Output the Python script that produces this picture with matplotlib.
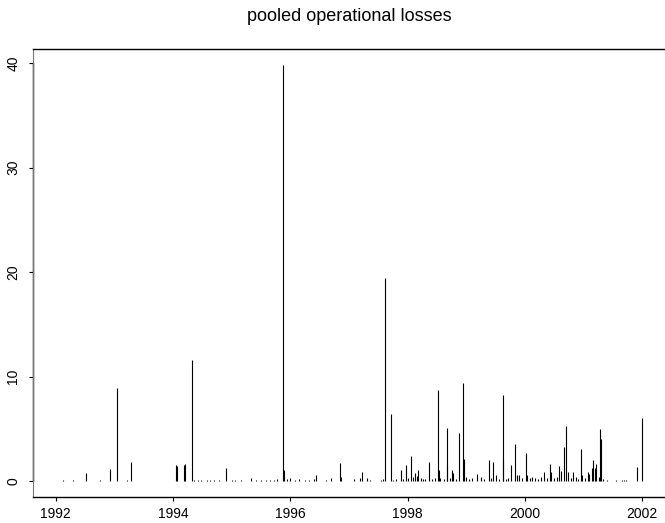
import matplotlib
matplotlib.use("Agg")
import matplotlib.pyplot as plt
import numpy as np

plt.rcParams['font.family'] = ['Liberation Sans', 'DejaVu Sans']

# loss dates as decimal years and pooled loss sizes
loss_dates = [
    1992.13, 1992.30, 1992.51, 1992.75, 1992.92, 1993.04, 1993.22, 1993.28,
    1994.05, 1994.07, 1994.19, 1994.21, 1994.33, 1994.36, 1994.42, 1994.47,
    1994.52, 1994.58, 1994.63, 1994.70, 1994.78, 1994.90, 1995.00, 1995.06,
    1995.15, 1995.32, 1995.42, 1995.50, 1995.58, 1995.65, 1995.72, 1995.78,
    1995.87, 1995.89, 1995.95, 1996.00, 1996.08, 1996.15, 1996.25, 1996.32,
    1996.40, 1996.44, 1996.60, 1996.69, 1996.85, 1996.87, 1997.09, 1997.19,
    1997.22, 1997.30, 1997.35, 1997.55, 1997.58, 1997.62, 1997.71, 1997.75,
    1997.80, 1997.88, 1997.92, 1997.97, 1998.00, 1998.05, 1998.09, 1998.13,
    1998.16, 1998.18, 1998.22, 1998.26, 1998.30, 1998.37, 1998.42, 1998.47,
    1998.52, 1998.53, 1998.56, 1998.62, 1998.67, 1998.68, 1998.72, 1998.75,
    1998.77, 1998.82, 1998.88, 1998.95, 1998.96, 1999.00, 1999.05, 1999.10,
    1999.19, 1999.25, 1999.30, 1999.38, 1999.42, 1999.46, 1999.50, 1999.56,
    1999.62, 1999.63, 1999.68, 1999.71, 1999.77, 1999.83, 1999.87, 1999.90,
    1999.95, 2000.02, 2000.04, 2000.08, 2000.12, 2000.17, 2000.22, 2000.28,
    2000.33, 2000.38, 2000.43, 2000.45, 2000.50, 2000.54, 2000.58, 2000.62,
    2000.67, 2000.70, 2000.74, 2000.78, 2000.82, 2000.87, 2000.91, 2000.96,
    2000.98, 2001.03, 2001.07, 2001.10, 2001.14, 2001.17, 2001.19, 2001.22,
    2001.26, 2001.28, 2001.29, 2001.33, 2001.40, 2001.55, 2001.66, 2001.69,
    2001.72, 2001.91, 2001.99,
]
loss_sizes = [
    0.05, 0.05, 0.75, 0.05, 1.18, 8.9, 0.08, 1.85,
    1.5, 1.45, 1.55, 1.6, 11.6, 0.1, 0.05, 0.05,
    0.04, 0.05, 0.06, 0.05, 0.08, 1.25, 0.05, 0.05,
    0.06, 0.3, 0.08, 0.05, 0.1, 0.08, 0.12, 0.15,
    39.8, 1.05, 0.2, 0.3, 0.1, 0.15, 0.12, 0.1,
    0.2, 0.55, 0.1, 0.3, 1.7, 0.4, 0.15, 0.3,
    0.85, 0.3, 0.1, 0.1, 0.2, 19.4, 6.4, 0.1,
    0.15, 1.05, 0.2, 1.5, 0.3, 2.35, 0.4, 0.8,
    0.5, 1.05, 0.3, 0.2, 0.15, 1.8, 0.2, 0.3,
    8.7, 1.1, 0.3, 0.2, 5.1, 1.5, 0.3, 1.05,
    0.8, 0.2, 4.55, 9.35, 2.1, 0.4, 0.2, 0.3,
    0.7, 0.4, 0.2, 2.0, 0.3, 1.8, 0.6, 0.2,
    8.2, 2.0, 0.2, 0.3, 1.5, 3.5, 0.6, 0.6,
    0.3, 2.7, 0.6, 0.3, 0.4, 0.3, 0.2, 0.4,
    0.85, 0.3, 1.6, 0.85, 0.3, 0.4, 1.45, 1.0,
    3.3, 5.25, 0.9, 0.3, 0.85, 0.4, 0.2, 3.1,
    0.6, 0.3, 0.85, 0.7, 1.2, 2.05, 1.25, 1.6,
    0.4, 4.95, 4.0, 0.2, 0.1, 0.05, 0.1, 0.08,
    0.05, 1.35, 6.05,
]

year_ticks = [1992, 1994, 1996, 1998, 2000, 2002]
loss_ticks = [0, 10, 20, 30, 40]

fig = plt.figure(figsize=(6.65, 5.23), dpi=100)
ax = fig.add_axes([33 / 665, 26 / 523, 632 / 665, 448 / 523])

# histogram-like spikes, one per loss event
ax.vlines(loss_dates, 0, loss_sizes, color='black', linewidth=0.8)

ax.set_xlim(1991.61, 2002.39)
ax.set_ylim(-1.53, 41.34)
ax.set_xticks(year_ticks)
ax.set_yticks(loss_ticks)
ax.set_xticklabels([str(y) for y in year_ticks])
ax.set_yticklabels([str(v) for v in loss_ticks], rotation=90, va='center')
ax.tick_params(direction='out', length=3, width=0.8, labelsize=10, colors='black')
ax.tick_params(axis='x', pad=4.5)
ax.tick_params(axis='y', pad=6)

for side in ['top', 'bottom']:
    ax.spines[side].set_linewidth(1.0)
ax.spines['right'].set_visible(False)
ax.spines['left'].set_color('#777777')
ax.spines['left'].set_linewidth(0.8)
# dark axis line between first and last y tick
ax.plot([1991.61, 1991.61], [0, 40], color='black', linewidth=1.0, clip_on=False)

fig.text(349 / 665, 1 - 20.7 / 523, 'pooled operational losses',
         ha='center', va='baseline', fontsize=13)

fig.savefig('out.png', dpi=100)
